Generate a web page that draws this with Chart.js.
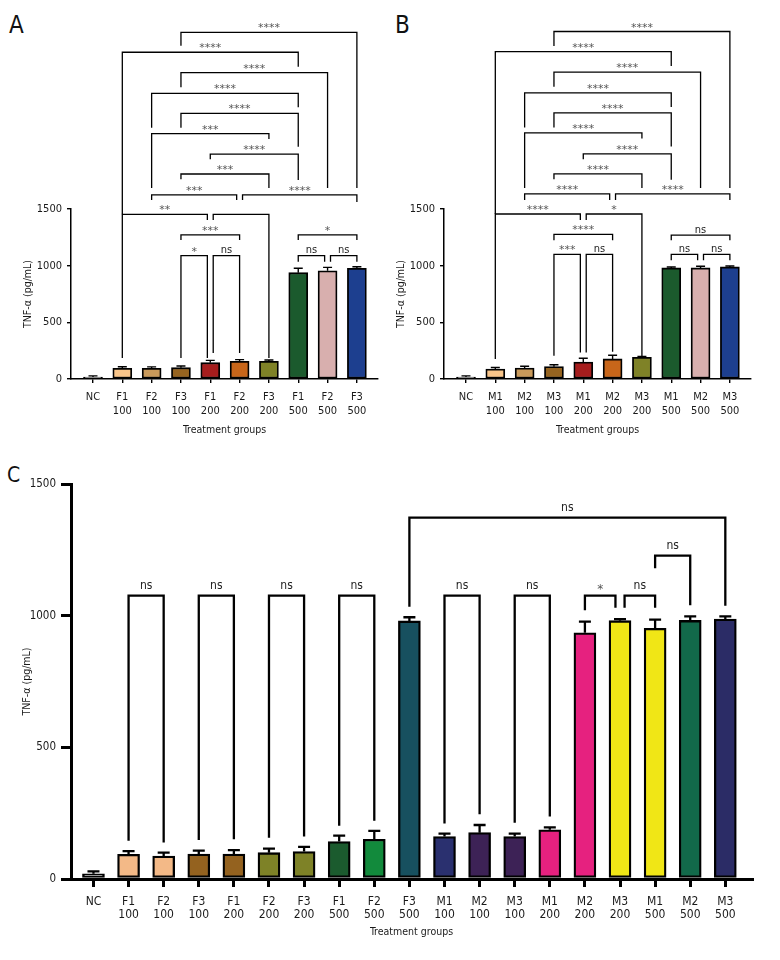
<!DOCTYPE html>
<html lang="en">
<head>
<meta charset="UTF-8">
<title>TNF-α by treatment group</title>
<script src="https://cdn.jsdelivr.net/npm/chart.js"></script>
<style>
  body { margin: 0; background: #fff; }
  #wrap { position: relative; width: 780px; height: 960px; overflow: hidden; }
  canvas { position: absolute; }
  .tag { position: absolute; line-height: 1; color: #111;
         font-family: "Liberation Sans Narrow", "Arial Narrow", "DejaVu Sans Condensed", sans-serif; }
</style>
</head>
<body>
<div id="wrap">
  <div class="tag" style="left:9px;top:13px;font-size:24px">A</div>
  <div class="tag" style="left:395px;top:13px;font-size:24px">B</div>
  <div class="tag" style="left:7px;top:465px;font-size:21px">C</div>
  <canvas id="panelA" width="390" height="440" style="left:0;top:0"></canvas>
  <canvas id="panelB" width="390" height="440" style="left:373px;top:0"></canvas>
  <canvas id="panelC" width="780" height="490" style="left:0;top:470px"></canvas>
</div>
<script>
// ---- data (TNF-α, pg/mL) ----
const labelsA = [['NC'], ['F1', '100'], ['F2', '100'], ['F3', '100'], ['F1', '200'], ['F2', '200'], ['F3', '200'], ['F1', '500'], ['F2', '500'], ['F3', '500']];
const meansA = [18, 95, 95, 100, 144, 156, 156, 938, 955, 977];
const sdA = [10, 13, 12, 15, 20, 15, 12, 39, 30, 14];

const labelsB = [['NC'], ['M1', '100'], ['M2', '100'], ['M3', '100'], ['M1', '200'], ['M2', '200'], ['M3', '200'], ['M1', '500'], ['M2', '500'], ['M3', '500']];
const meansB = [18, 88, 97, 109, 150, 177, 192, 980, 980, 989];
const sdB = [10, 14, 15, 17, 33, 32, 6, 8, 15, 8];

const labelsC = [['NC'], ['F1', '100'], ['F2', '100'], ['F3', '100'], ['F1', '200'], ['F2', '200'], ['F3', '200'], ['F1', '500'], ['F2', '500'], ['F3', '500'],
  ['M1', '100'], ['M2', '100'], ['M3', '100'], ['M1', '200'], ['M2', '200'], ['M3', '200'], ['M1', '500'], ['M2', '500'], ['M3', '500']];
const meansC = [20, 94, 87, 95, 95, 100, 104, 142, 151, 980, 161, 176, 161, 187, 935, 981, 952, 982, 987];
const sdC = [9, 12, 13, 13, 15, 15, 18, 23, 32, 14, 11, 29, 11, 9, 42, 6, 33, 15, 10];

const yTicks = [0, 500, 1000, 1500];

// significance brackets: [from group, to group, bracket level, left leg end, right leg end, label]
const bracketsA = [
  [3, 9, 3059, 2941, 1685, '****'],
  [1, 7, 2883, 1453, 2756, '****'],
  [3, 8, 2703, 2574, 1685, '****'],
  [2, 7, 2521, 2217, 2397, '****'],
  [3, 7, 2344, 2217, 2050, '****'],
  [2, 6, 2165, 1685, 2118, '***'],
  [4, 7, 1985, 1938, 1756, '****'],
  [3, 6, 1809, 1762, 1685, '***'],
  [2, 4.9, 1624, 1579, 1579, '***'],
  [5.1, 9, 1624, 1579, 1562, '****'],
  [1, 3.9, 1453, 185, 1403, '**'],
  [4.1, 6, 1453, 1403, 185, ''],
  [3, 5, 1271, 1226, 1226, '***'],
  [3, 3.9, 1088, 185, 185, '*'],
  [4.1, 5, 1088, 229, 229, 'ns'],
  [7, 9, 1271, 1226, 1226, '*'],
  [7, 7.9, 1088, 1035, 1035, 'ns'],
  [8.1, 9, 1088, 1035, 1035, 'ns']
];
const bracketsB = [
  [3, 9, 3066, 2938, 1686, '****'],
  [1, 7, 2888, 1456, 2761, '****'],
  [3, 8, 2708, 2578, 1686, '****'],
  [2, 7, 2525, 2220, 2401, '****'],
  [3, 7, 2348, 2220, 2052, '****'],
  [2, 6, 2171, 1686, 2121, '****'],
  [4, 7, 1987, 1940, 1757, '****'],
  [3, 6, 1810, 1763, 1686, '****'],
  [2, 4.9, 1633, 1580, 1580, '****'],
  [5.1, 9, 1633, 1580, 1580, '****'],
  [1, 3.9, 1456, 177, 1403, '****'],
  [4.1, 6, 1456, 1403, 200, '*'],
  [3, 5, 1276, 1225, 1225, '****'],
  [3, 3.9, 1099, 206, 234, '***'],
  [4.1, 5, 1099, 234, 240, 'ns'],
  [7, 9, 1270, 1225, 1225, 'ns'],
  [7, 7.9, 1099, 1048, 1048, 'ns'],
  [8.1, 9, 1099, 1048, 1048, 'ns']
];
const bracketsC = [
  [1, 2, 1076, 145, 139, 'ns'],
  [3, 4, 1076, 148, 151, 'ns'],
  [5, 6, 1076, 157, 161, 'ns'],
  [7, 8, 1076, 202, 221, 'ns'],
  [10, 11, 1076, 211, 246, 'ns'],
  [12, 13, 1076, 214, 237, 'ns'],
  [9, 18, 1372, 1034, 1038, 'ns'],
  [14, 14.87, 1076, 1021, 1030, '*'],
  [15.13, 16, 1076, 1030, 1030, 'ns'],
  [16, 17, 1228, 1180, 1040, 'ns']
];

// bar fills
const colorsAB = ['#7b7b7b', '#f8c58a', '#c99a5b', '#966420', '#a61d1d', '#c8661a', '#7f8227', '#1b5a2d', '#d8afae', '#1d3f8f'];
const colorsC = ['#8a8a8a', '#f3b987', '#f3b987', '#94621f', '#94621f', '#7e8227', '#7e8227', '#1b5b2e', '#128a3c', '#17505f',
  '#2a306f', '#3d2256', '#3d2256', '#e6217f', '#e6217f', '#f0e616', '#f0e616', '#12694a', '#2b2c66'];

const FONT = '"Liberation Sans Narrow", "Arial Narrow", "DejaVu Sans Condensed", sans-serif';
Chart.defaults.font.family = FONT;
Chart.defaults.color = '#1a1a1a';

function drawPanel(id, p) {
  // error bars (mean + SD) and significance brackets
  const marks = {
    id: 'marks',
    afterDatasetsDraw(chart) {
      const { ctx, scales: { x, y } } = chart;
      ctx.save();
      ctx.strokeStyle = '#000';
      ctx.lineWidth = p.errLine;
      p.means.forEach((m, i) => {
        const cx = x.getPixelForValue(i);
        const top = y.getPixelForValue(m + p.sd[i]);
        ctx.beginPath();
        ctx.moveTo(cx, y.getPixelForValue(m));
        ctx.lineTo(cx, top);
        ctx.moveTo(cx - p.cap, top);
        ctx.lineTo(cx + p.cap, top);
        ctx.stroke();
      });
      ctx.lineWidth = p.bracketLine;
      ctx.textAlign = 'center';
      ctx.textBaseline = 'alphabetic';
      p.brackets.forEach(([a, b, level, endA, endB, text]) => {
        const xa = x.getPixelForValue(a), xb = x.getPixelForValue(b);
        const yl = y.getPixelForValue(level);
        ctx.beginPath();
        ctx.moveTo(xa, y.getPixelForValue(endA));
        ctx.lineTo(xa, yl);
        ctx.lineTo(xb, yl);
        ctx.lineTo(xb, y.getPixelForValue(endB));
        ctx.stroke();
        if (!text) return;
        const star = text[0] === '*';
        ctx.fillStyle = star ? '#555' : '#222';
        ctx.font = star ? p.starFont : p.nsFont;
        ctx.fillText(text, (xa + xb) / 2, yl - (star ? p.starGap : p.nsGap));
      });
      ctx.restore();
    }
  };

  new Chart(document.getElementById(id), {
    type: 'bar',
    data: {
      datasets: [{
        data: p.means.map((v, i) => ({ x: i, y: v })),
        backgroundColor: p.colors,
        borderColor: '#000',
        borderWidth: p.barLine,
        borderSkipped: false,
        barThickness: p.barWidth
      }]
    },
    options: {
      responsive: false,
      animation: false,
      devicePixelRatio: 1,
      layout: { padding: p.pad },
      plugins: { legend: { display: false }, tooltip: { enabled: false } },
      scales: {
        x: {
          type: 'linear',
          offset: false,
          min: p.xMin,
          max: p.xMax,
          afterBuildTicks: s => { s.ticks = p.labels.map((_, i) => ({ value: i })); },
          afterFit: s => { s.height = p.xHeight; },
          grid: { offset: false, drawOnChartArea: false, color: '#000', lineWidth: p.tickLine, tickLength: p.xTick },
          border: { color: '#000', width: p.axisLine },
          ticks: {
            autoSkip: false, maxRotation: 0, padding: p.xPad, color: '#1a1a1a',
            font: { size: p.xFont, lineHeight: p.xLineHeight },
            callback: v => p.labels[v]
          },
          title: { display: true, text: 'Treatment groups', color: '#1a1a1a', font: { size: 10.5 }, padding: { top: 0, bottom: p.xTitlePad } }
        },
        y: {
          min: 0,
          max: 1500,
          afterBuildTicks: s => { s.ticks = yTicks.map(v => ({ value: v })); },
          afterFit: s => { s.width = p.yWidth; },
          grid: { drawOnChartArea: false, color: '#000', lineWidth: p.tickLine, tickLength: p.yTick },
          border: { color: '#000', width: p.axisLine },
          ticks: { padding: p.yPad, color: '#1a1a1a', font: { size: p.yFont }, callback: v => String(v) },
          title: { display: true, text: 'TNF-α (pg/mL)', color: '#1a1a1a', font: { size: 10.5 }, padding: { top: p.yTitlePad, bottom: 0 } }
        }
      }
    },
    plugins: [marks]
  });
}

const small = {
  xMin: -0.75, xMax: 9.72, pad: { top: 209, right: 12, bottom: 0, left: 0 },
  xHeight: 61, yWidth: 71, xTick: 4, yTick: 4, xPad: 8, yPad: 5,
  xFont: 11, xLineHeight: 1.2, yFont: 11, xTitlePad: 3, yTitlePad: 22,
  barWidth: 19, barLine: 1.8, tickLine: 1.4, axisLine: 1.5, errLine: 1.4, cap: 4.5, bracketLine: 1.3,
  starFont: '11px "DejaVu Sans", sans-serif', nsFont: '11px ' + FONT, starGap: 1, nsGap: 2.5
};

drawPanel('panelA', Object.assign({}, small, { labels: labelsA, means: meansA, sd: sdA, colors: colorsAB, brackets: bracketsA }));
drawPanel('panelB', Object.assign({}, small, { labels: labelsB, means: meansB, sd: sdB, colors: colorsAB, brackets: bracketsB }));
drawPanel('panelC', {
  labels: labelsC, means: meansC, sd: sdC, colors: colorsC, brackets: bracketsC,
  xMin: -0.64, xMax: 18.76, pad: { top: 14, right: 28, bottom: 0, left: 0 },
  xHeight: 81, yWidth: 71, xTick: 8, yTick: 10, xPad: 8.5, yPad: 5,
  xFont: 12, xLineHeight: 1.08, yFont: 11.5, xTitlePad: 21, yTitlePad: 21,
  barWidth: 22, barLine: 2.3, tickLine: 3, axisLine: 3, errLine: 2.3, cap: 6, bracketLine: 2.3,
  starFont: '12px "DejaVu Sans", sans-serif', nsFont: '12px ' + FONT, starGap: 2.5, nsGap: 6.5
});
</script>
</body>
</html>
